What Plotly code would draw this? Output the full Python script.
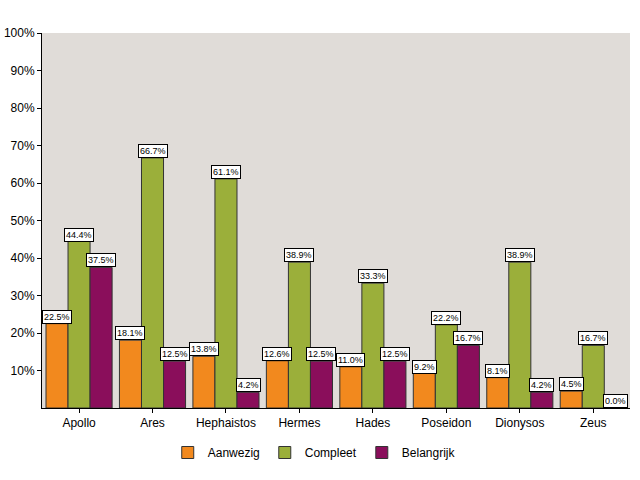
import plotly.graph_objects as go

categories = ["Apollo", "Ares", "Hephaistos", "Hermes", "Hades", "Poseidon", "Dionysos", "Zeus"]
aanwezig = [22.5, 18.1, 13.8, 12.6, 11.0, 9.2, 8.1, 4.5]
compleet = [44.4, 66.7, 61.1, 38.9, 33.3, 22.2, 38.9, 16.7]
belangrijk = [37.5, 12.5, 4.2, 12.5, 12.5, 16.7, 4.2, 0.0]
series_names = ["Aanwezig", "Compleet", "Belangrijk"]
colors = ["#F2891E", "#9BAF3A", "#8A0E5B"]
yticks = [10, 20, 30, 40, 50, 60, 70, 80, 90, 100]
yticklabels = [f"{t}%" for t in yticks]

series = [aanwezig, compleet, belangrijk]

fig = go.Figure()
for name, vals, col in zip(series_names, series, colors):
    fig.add_trace(go.Bar(
        x=categories, y=vals, name=name,
        marker=dict(color=col, line=dict(color="#333333", width=1)),
    ))

plot_w = 640 - 42 - 10
band = plot_w / len(categories)
bar_w = band * 0.9 / 3
annotations = []
for i, vals in enumerate(series):
    for c, v in zip(categories, vals):
        annotations.append(dict(
            x=c, y=v, xref="x", yref="y",
            text=f"{v:.1f}%", showarrow=False,
            xshift=(i - 1) * bar_w, yanchor="bottom",
            font=dict(size=9, color="black", family="Liberation Sans, Arial"),
            bgcolor="white", bordercolor="black", borderwidth=1, borderpad=1,
        ))

fig.update_layout(
    width=640, height=480,
    barmode="group", bargap=0.1, bargroupgap=0,
    plot_bgcolor="#E0DCD8", paper_bgcolor="white",
    margin=dict(l=42, r=10, t=33, b=72),
    font=dict(family="Liberation Sans, Arial", size=12, color="black"),
    annotations=annotations,
    legend=dict(orientation="h", x=0.463, xanchor="center", y=-0.08, yanchor="top",
                font=dict(size=12), itemwidth=30, traceorder="normal"),
    showlegend=True,
)
fig.update_yaxes(range=[0, 100], tickmode="array", tickvals=yticks, ticktext=yticklabels,
                 showgrid=False, zeroline=False, showline=True, linecolor="black",
                 ticks="outside", ticklen=4, tickcolor="black", automargin=False)
fig.update_xaxes(showgrid=False, showline=True, linecolor="black",
                 ticks="outside", ticklen=4, tickcolor="black", automargin=False)

fig.write_html("out.html")
